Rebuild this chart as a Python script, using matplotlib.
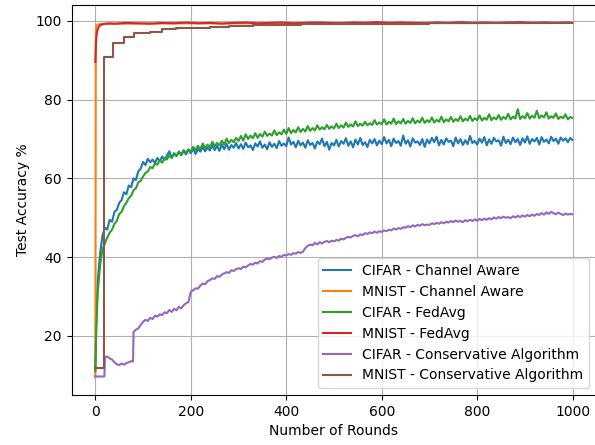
import matplotlib
matplotlib.use("Agg")
import matplotlib.pyplot as plt

# ---- data ----
cifar_rounds = [0, 2, 5] + list(range(10, 1000, 5)) + [999]

cifar_channel_aware = [
    11.5, 24.0, 34.0,
    41.0, 45.5, 47.5, 47.0, 49.5, 49.0, 51.5, 52.0, 53.8, 54.5, 56.5, 56.0, 58.2, 57.8, 60.0, 59.6, 61.8, 62.5,
    64.2, 63.4, 65.0, 64.1, 64.8, 63.9, 65.2, 64.4, 65.6, 64.7, 65.8, 66.9, 65.2, 66.4, 65.7, 66.8, 65.9, 67.0, 66.1, 67.3,
    66.4, 67.6, 66.2, 67.5, 66.8, 68.0, 66.9, 67.8, 67.1, 68.4, 67.2, 68.3, 67.0, 68.6, 67.4, 68.8, 67.3, 68.5, 67.8, 69.0,
    67.6, 68.7, 67.5, 69.1, 67.9, 68.4, 67.2, 68.9, 68.1, 69.4, 67.8, 68.6, 67.4, 69.2, 68.0, 68.8, 67.7, 69.5, 68.3, 68.9,
    68.2, 70.4, 68.6, 69.3, 67.9, 69.6, 68.4, 69.1, 67.8, 69.7, 68.5, 69.0, 67.6, 69.4, 68.7, 70.1, 68.2, 69.3, 67.3, 69.0,
    68.4, 69.8, 68.1, 69.5, 68.8, 70.2, 68.3, 69.4, 67.9, 69.9, 68.6, 70.3, 68.5, 69.2, 68.0, 69.8, 68.9, 70.0, 68.4, 69.6,
    68.7, 70.5, 68.9, 69.8, 68.2, 70.1, 69.0, 69.5, 68.3, 70.9, 68.8, 69.7, 68.1, 70.2, 69.1, 69.4, 68.5, 70.0, 68.0, 69.9,
    68.9, 70.3, 69.2, 70.6, 68.4, 69.8, 68.6, 70.2, 69.3, 69.6, 68.2, 70.4, 68.9, 70.0, 68.5, 69.7, 68.7, 70.8, 69.0, 69.5,
    68.6, 70.1, 69.1, 70.5, 68.4, 69.9, 68.8, 70.3, 69.4, 69.7, 68.3, 70.6, 69.0, 69.8, 68.7, 70.4, 69.2, 70.0, 68.5, 70.2,
    69.1, 70.7, 68.8, 70.0, 69.4, 70.3, 68.6, 70.5, 69.3, 69.9, 68.9, 70.6, 69.5, 70.1, 68.8, 70.4, 69.6, 70.2, 69.2, 70.3, 69.8,
]

cifar_fedavg = [
    11.0, 22.0, 31.0,
    38.0, 42.0, 43.5, 45.0, 46.2, 47.0, 48.5, 49.2, 51.0, 51.5, 53.0, 53.8, 55.0, 55.6, 57.0, 57.5, 59.0, 59.4,
    60.5, 61.4, 61.8, 62.9, 62.6, 63.8, 63.5, 64.6, 64.0, 65.2, 64.8, 65.9, 65.2, 66.3, 65.7, 66.8, 66.1, 67.2, 66.5, 67.4,
    66.8, 68.0, 67.2, 68.3, 67.4, 68.9, 67.7, 68.6, 67.9, 69.3, 68.2, 69.0, 68.4, 69.6, 68.6, 70.1, 69.0, 69.8, 69.2, 70.3,
    69.5, 70.8, 69.6, 71.2, 70.0, 70.9, 70.2, 71.5, 70.3, 71.3, 70.6, 71.9, 70.8, 71.4, 70.9, 72.2, 71.0, 71.7, 71.2, 72.4,
    71.3, 72.8, 71.5, 72.3, 71.7, 73.0, 71.8, 72.6, 71.9, 73.3, 72.1, 72.8, 72.2, 73.5, 72.4, 73.0, 72.5, 73.6, 72.6, 73.2,
    72.7, 73.9, 72.8, 73.5, 72.9, 74.2, 73.1, 73.7, 73.2, 74.5, 73.3, 73.9, 73.4, 74.4, 73.5, 74.0, 73.6, 74.8, 73.7, 74.2,
    73.8, 75.0, 73.7, 74.4, 73.9, 75.2, 73.8, 74.5, 74.0, 75.1, 73.9, 74.6, 74.1, 75.3, 74.0, 74.7, 74.2, 75.4, 74.1, 74.8,
    74.3, 75.5, 74.2, 74.9, 74.4, 75.7, 74.3, 75.0, 74.5, 75.6, 74.4, 75.1, 74.6, 75.8, 74.5, 75.2, 74.7, 75.9, 74.6, 75.3,
    74.8, 76.0, 74.7, 75.4, 74.9, 76.3, 74.8, 75.5, 75.0, 76.1, 74.9, 75.6, 75.1, 76.4, 75.0, 75.7, 75.2, 77.6, 75.1, 75.8,
    75.3, 76.6, 75.2, 75.9, 75.4, 77.2, 75.3, 76.0, 75.5, 76.8, 75.2, 75.8, 75.4, 76.5, 75.1, 75.7, 75.3, 76.3, 75.0, 75.6, 75.4,
]

conservative_cifar_rounds = [0, 19, 20, 25, 30, 35, 40, 45, 50, 55, 60, 65, 70, 75, 79, 80, 85, 90, 95] \
    + list(range(100, 1000, 5)) + [999]

cifar_conservative = [
    9.7, 9.7, 14.5, 14.8, 14.3, 14.0, 13.3, 12.8, 12.6, 13.0, 12.7, 13.1, 13.3, 13.6, 13.5, 21.0, 21.6, 21.9, 22.8,
    23.6, 24.1, 23.8, 24.6, 24.3, 25.2, 24.9, 25.5, 25.3, 26.0, 25.8, 26.6, 26.1, 26.9, 26.5, 27.4, 27.0, 27.8, 28.3, 28.6,
    31.2, 31.6, 32.1, 32.0, 32.8, 33.3, 33.1, 33.9, 34.2, 34.6, 34.5, 35.2, 35.0, 35.6, 35.9, 36.2, 36.0, 36.7, 36.5, 37.0,
    37.2, 37.0, 37.6, 37.4, 37.9, 38.3, 38.1, 38.6, 38.4, 39.0, 38.8, 39.4, 39.7, 39.5, 39.9, 40.1, 39.8, 40.3, 40.1, 40.6,
    40.4, 40.8, 40.6, 41.0, 40.9, 41.3, 41.1, 41.4, 42.3, 42.9, 43.2, 43.0, 43.6, 43.3, 43.8, 43.5, 43.9, 44.1, 43.8, 44.2,
    44.0, 44.4, 44.2, 44.7, 44.5, 44.9, 45.2, 45.0, 45.4, 45.6, 45.3, 45.8, 45.6, 46.1, 45.9, 46.3, 46.1, 46.5, 46.2, 46.6,
    46.4, 46.8, 46.6, 47.0, 46.8, 47.3, 47.0, 47.4, 47.2, 47.6, 47.5, 47.9, 47.6, 48.1, 47.8, 48.2, 48.0, 48.4, 48.1, 48.3,
    48.2, 48.6, 48.4, 48.7, 48.5, 48.9, 48.6, 49.0, 48.8, 49.2, 48.9, 49.3, 49.0, 49.2, 48.9, 49.4, 49.1, 49.5, 49.2, 49.6,
    49.3, 49.7, 49.4, 49.8, 49.5, 49.9, 49.6, 50.1, 49.8, 50.2, 49.9, 50.3, 50.0, 50.2, 49.9, 50.4, 50.1, 50.5, 50.2, 50.6,
    50.3, 50.7, 50.4, 50.8, 50.5, 51.0, 50.7, 51.2, 50.8, 51.4, 51.0, 51.5, 51.2, 50.9, 51.3, 51.0, 50.7, 51.1, 50.8, 51.0, 50.9,
]

mnist_ca_rounds = [0, 1, 2, 3, 5, 10, 50, 200, 500, 999]
mnist_channel_aware = [9.5, 96.0, 98.3, 98.9, 99.1, 99.2, 99.3, 99.4, 99.4, 99.5]

mnist_fedavg_rounds = [0, 1, 2, 3, 4, 6, 8, 10, 14, 20, 30] + list(range(40, 1000, 25)) + [999]
mnist_fedavg = [
    89.6, 93.5, 95.5, 96.8, 97.5, 98.2, 98.6, 98.9, 99.1, 99.3, 99.4,
    99.3, 99.5, 99.4, 99.3, 99.5, 99.4, 99.6, 99.4, 99.5, 99.3, 99.5, 99.6, 99.4, 99.5, 99.6, 99.4,
    99.5, 99.6, 99.5, 99.4, 99.6, 99.5, 99.7, 99.5, 99.6, 99.5, 99.4, 99.6, 99.5, 99.7, 99.5, 99.6,
    99.5, 99.6, 99.7, 99.5, 99.6, 99.5, 99.6, 99.5,
]

mnist_cons_rounds = [0, 18, 38, 59, 80, 115, 140, 170, 200, 240, 280, 330, 380, 430, 500, 600, 700, 850, 999]
mnist_conservative = [11.8, 90.8, 94.4, 95.9, 96.9, 97.2, 97.9, 98.1, 98.3, 98.5, 98.7, 98.9, 99.0,
                      99.1, 99.2, 99.3, 99.4, 99.5, 99.5]

labels = [
    "CIFAR - Channel Aware",
    "MNIST - Channel Aware",
    "CIFAR - FedAvg",
    "MNIST - FedAvg",
    "CIFAR - Conservative Algorithm",
    "MNIST - Conservative Algorithm",
]

# ---- figure ----
fig = plt.figure(figsize=(5.95, 4.45), dpi=100)
ax = fig.add_axes([71.5 / 595, 50 / 445, (596 - 71.5) / 595, 390 / 445])

ax.plot(cifar_rounds, cifar_channel_aware, color="C0", lw=1.5, label=labels[0])
ax.plot(mnist_ca_rounds, mnist_channel_aware, color="C1", lw=1.5, label=labels[1])
ax.plot(cifar_rounds, cifar_fedavg, color="C2", lw=1.5, label=labels[2])
ax.plot(mnist_fedavg_rounds, mnist_fedavg, color="C3", lw=1.5, label=labels[3])
ax.plot(conservative_cifar_rounds, cifar_conservative, color="C4", lw=1.5, label=labels[4])
ax.plot(mnist_cons_rounds, mnist_conservative, color="C5", lw=1.5, drawstyle="steps-post", label=labels[5])

ax.set_xlim(-49.95, 1048.95)
ax.set_ylim(5.0, 104.05)
ax.set_xticks([0, 200, 400, 600, 800, 1000])
ax.set_yticks([20, 40, 60, 80, 100])
ax.grid(True)
ax.set_xlabel("Number of Rounds")
ax.set_ylabel("Test Accuracy %")
ax.legend(loc="lower right")

fig.savefig("out.png", dpi=100)
